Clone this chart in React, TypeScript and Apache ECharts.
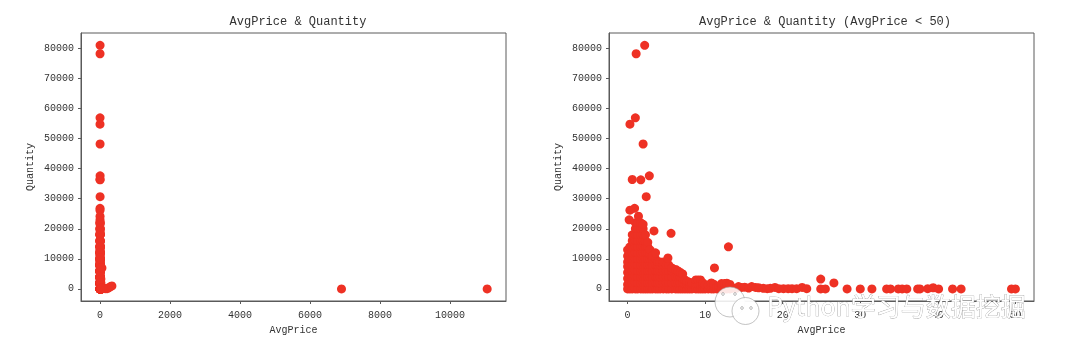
import React, { useEffect, useRef } from "react";
import * as echarts from "echarts";

const RED = "#EE3124";
const INK = "#333333";
const FRAME = "#5a5a5a";
const MONO = "'Liberation Mono', 'DejaVu Sans Mono', monospace";

const quantityTicks = [0, 10000, 20000, 30000, 40000, 50000, 60000, 70000, 80000];
const fullPriceTicks = [0, 2000, 4000, 6000, 8000, 10000];
const cutPriceTicks = [0, 10, 20, 30, 40, 50];

// isolated points: [AvgPrice, Quantity]
const outliers: number[][] = [
  [2.2, 81000], [1.1, 78200], [1.0, 56900], [0.3, 54800], [2.0, 48200],
  [2.8, 37600], [0.6, 36400], [1.7, 36300], [2.4, 30700], [0.9, 26800],
  [0.3, 26200], [0.2, 23000], [1.4, 24200], [3.4, 19300], [5.6, 18500],
  [13.0, 14000], [11.2, 7000], [3.6, 12000], [5.2, 10300],
];

// the dense area: price of a column, then the quantities seen in it
const denseColumns: [number, number[]][] = [
  [0.0, [0, 1500, 3500, 5500, 7500, 9000, 11000, 13000]],
  [0.3, [0, 2000, 4000, 6000, 8000, 10000, 12000, 14000]],
  [0.6, [0, 2000, 4000, 6000, 8000, 10000, 12000, 14000, 16000, 18000]],
  [1.0, [0, 2000, 4000, 6000, 8000, 10000, 12000, 14000, 16000, 18000, 20000, 22000]],
  [1.3, [0, 2000, 4000, 6000, 8000, 10000, 12000, 14000, 16000, 18000, 20000, 22000]],
  [1.7, [0, 2000, 4000, 6000, 8000, 10000, 12000, 14000, 16000, 18000, 20000, 22000]],
  [2.0, [0, 2000, 4000, 6000, 8000, 10000, 12000, 14000, 16000, 18000, 20000, 21500]],
  [2.3, [0, 2000, 4000, 6000, 8000, 10000, 12000, 14000, 15800, 18000]],
  [2.6, [0, 2000, 4000, 6000, 8000, 10000, 12000, 14000, 15500]],
  [2.9, [0, 2000, 4000, 6000, 8000, 10000, 11500, 13000]],
  [3.2, [0, 2000, 4000, 6000, 8000, 10000, 11000]],
  [3.6, [0, 2000, 4000, 6000, 8000, 10000]],
  [3.9, [0, 2000, 4000, 6000, 8000, 9000]],
  [4.2, [0, 2000, 4000, 6000, 8000, 9000]],
  [4.6, [0, 2000, 4000, 6000, 8000, 9000]],
  [5.0, [0, 2000, 4000, 6000, 8000]],
  [5.3, [0, 2000, 4000, 6000, 8000]],
  [5.7, [0, 2000, 4000, 6000, 7000]],
  [6.2, [0, 2000, 4000, 6500]],
  [6.5, [0, 2000, 4000, 6000]],
  [6.8, [0, 2000, 4000, 5500]],
  [7.1, [0, 2000, 3500, 5000]],
  [7.4, [0, 1500, 3000]],
  [7.7, [0, 1500, 2500]],
  [8.0, [0, 1500, 2200]],
  [8.3, [0, 1500, 2000]],
  [8.8, [0, 1500, 3000]],
  [9.1, [0, 1500, 3000]],
  [9.4, [0, 1500, 3000]],
  [9.7, [0, 1500, 2000]],
  [10.0, [0, 1400]],
  [10.4, [0, 1300]],
  [10.8, [0, 1000, 2000]],
  [11.1, [0, 1000, 1600]],
  [11.5, [0, 800]],
  [11.8, [0, 900]],
  [12.1, [0, 1000, 1800]],
  [12.5, [0, 1000, 1800]],
  [12.8, [0, 1000, 1900]],
  [13.2, [0, 1000, 1500]],
];

// the thin run along the bottom, and the scattered points after it
const tail: number[][] = [
  [13.6, 300], [14.0, 200], [14.3, 800], [14.7, 500], [15.1, 600], [15.6, 300],
  [16.0, 800], [16.5, 500], [16.9, 400], [17.5, 200], [18.0, 100], [18.4, 200],
  [19.0, 500], [19.5, 100], [20.1, 100], [20.7, 100], [21.2, 100], [21.8, 100],
  [22.5, 500], [23.1, 100], [24.9, 3300], [24.9, 0], [25.5, 0], [26.6, 2000],
  [28.3, 0], [30.0, 0], [31.5, 0], [33.4, 0], [33.9, 0], [34.9, 0], [35.4, 0],
  [36.0, 0], [37.4, 0], [37.7, 0], [38.7, 100], [39.4, 400], [40.1, 0], [41.9, 0],
  [43.0, 0], [49.5, 0], [50.0, 0],
];

// points of the left panel that the AvgPrice < 50 filter removes
const expensive: number[][] = [
  [55, 7000], [70, 300], [110, 200], [150, 100], [200, 100], [250, 400],
  [300, 800], [340, 1000], [6900, 0], [11062, 0],
];

const cutPoints: number[][] = [
  ...denseColumns.flatMap(([price, qtys]) => qtys.map((q) => [price, q])),
  ...tail,
  ...outliers,
];
const fullPoints: number[][] = [...cutPoints, ...expensive];

const plain = (v: number) => String(v);

const xAxisFor = (gridIndex: number, min: number, max: number, ticks: number[]) => ({
  type: "value",
  gridIndex,
  min,
  max,
  name: "AvgPrice",
  nameLocation: "middle",
  nameGap: 24,
  nameTextStyle: { color: INK, fontFamily: MONO, fontSize: 10 },
  axisLine: { show: true, onZero: false, lineStyle: { color: FRAME } },
  splitLine: { show: false },
  axisTick: { show: true, length: 3, customValues: ticks, lineStyle: { color: FRAME } },
  axisLabel: { color: INK, fontFamily: MONO, fontSize: 10, margin: 9, customValues: ticks, formatter: plain },
});

const yAxisFor = (gridIndex: number) => ({
  type: "value",
  gridIndex,
  min: -4000,
  max: 85100,
  name: "Quantity",
  nameLocation: "middle",
  nameGap: 46,
  nameRotate: 90,
  nameTextStyle: { color: INK, fontFamily: MONO, fontSize: 10 },
  axisLine: { show: true, onZero: false, lineStyle: { color: FRAME } },
  splitLine: { show: false },
  axisTick: { show: true, length: 3, customValues: quantityTicks, lineStyle: { color: FRAME } },
  axisLabel: { color: INK, fontFamily: MONO, fontSize: 10, margin: 7, customValues: quantityTicks, formatter: plain },
});

const seriesFor = (index: number, data: number[][]) => ({
  type: "scatter",
  xAxisIndex: index,
  yAxisIndex: index,
  symbolSize: 9,
  itemStyle: { color: RED, opacity: 1 },
  data,
});

const bubble = (x: number, y: number, r: number, fill: string) => ({
  type: "circle",
  shape: { cx: x, cy: y, r },
  style: { fill, stroke: "#9a9a9a", lineWidth: 0.6 },
  z: 50,
});

const eye = (x: number, y: number) => ({
  type: "circle",
  shape: { cx: x, cy: y, r: 1.3 },
  style: { fill: "#ffffff", stroke: "#777777", lineWidth: 0.6 },
  z: 52,
});

export default function App() {
  const ref = useRef<HTMLDivElement>(null);
  useEffect(() => {
    const chart = echarts.init(ref.current!, undefined, { renderer: "svg" });
    chart.setOption({
      animation: false,
      backgroundColor: "#ffffff",
      title: [
        {
          text: "AvgPrice & Quantity",
          left: 293,
          top: 11,
          textAlign: "center",
          textStyle: { color: INK, fontFamily: MONO, fontSize: 12, fontWeight: "normal" },
        },
        {
          text: "AvgPrice & Quantity (AvgPrice < 50)",
          left: 820,
          top: 11,
          textAlign: "center",
          textStyle: { color: INK, fontFamily: MONO, fontSize: 12, fontWeight: "normal" },
        },
      ],
      grid: [
        { left: 81, top: 33, width: 425, height: 268, show: true, borderColor: FRAME, borderWidth: 1, backgroundColor: "transparent" },
        { left: 609, top: 33, width: 425, height: 268, show: true, borderColor: FRAME, borderWidth: 1, backgroundColor: "transparent" },
      ],
      xAxis: [xAxisFor(0, -543, 11600, fullPriceTicks), xAxisFor(1, -2.4, 52.4, cutPriceTicks)],
      yAxis: [yAxisFor(0), yAxisFor(1)],
      series: [seriesFor(0, fullPoints), seriesFor(1, cutPoints)],
      graphic: [
        bubble(730, 302, 15, "rgba(255,255,255,0.88)"),
        bubble(745.5, 311, 13.5, "rgba(255,255,255,0.95)"),
        eye(723, 294),
        eye(735, 294),
        eye(742, 308),
        eye(751, 308),
        {
          type: "text",
          x: 767,
          y: 292,
          z: 51,
          style: {
            text: "Python学习与数据挖掘",
            fontFamily: "'Noto Sans CJK SC', 'Noto Sans', sans-serif",
            fontSize: 25,
            fill: "#ffffff",
            stroke: "#8f8f8f",
            lineWidth: 0.6,
          },
        },
      ],
    });
    return () => chart.dispose();
  }, []);
  return (
    <div
      ref={ref}
      style={{ position: "fixed", left: 0, top: 0, width: 1080, height: 356, filter: "blur(0.5px)" }}
    />
  );
}
